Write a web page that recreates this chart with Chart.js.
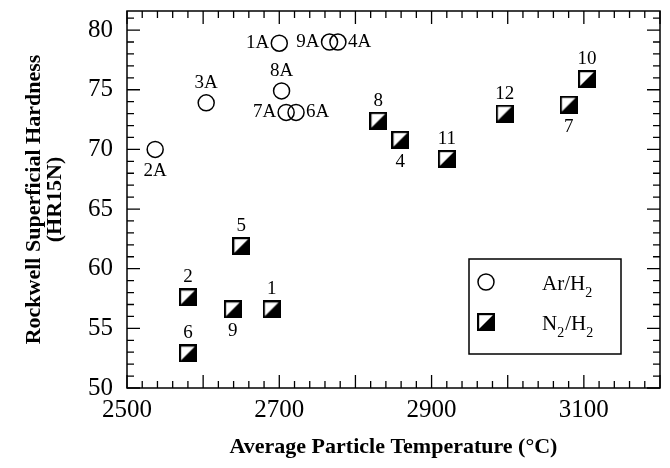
<!DOCTYPE html>
<html>
<head>
<meta charset="utf-8">
<script src="https://cdn.jsdelivr.net/npm/chart.js@4.4.1/dist/chart.umd.min.js"></script>
<style>
  body { margin: 0; background: #fff; }
</style>
</head>
<body>
<canvas id="grafico" width="670" height="468"></canvas>
<script>
// Ar/H2 sprayed coatings
const nomesAr = ['2A', '3A', '1A', '8A', '7A', '6A', '9A', '4A'];
const tempAr = [2537, 2604, 2700, 2703, 2709, 2722, 2766, 2777];
const durezaAr = [70.0, 73.9, 78.9, 74.9, 73.1, 73.1, 79.0, 79.0];

// N2/H2 sprayed coatings
const nomesN2 = ['1', '2', '4', '5', '6', '7', '8', '9', '10', '11', '12'];
const tempN2 = [2690, 2580, 2859, 2650, 2580, 3080, 2830, 2639, 3104, 2920, 2996];
const durezaN2 = [56.6, 57.6, 70.8, 61.9, 52.9, 73.75, 72.4, 56.6, 75.9, 69.2, 73.0];

// where each point label sits
const ladoAr = ['below', 'above', 'left', 'above', 'left', 'right', 'left', 'right'];
const ladoN2 = ['above', 'above', 'below', 'above', 'above', 'below', 'above', 'below', 'above', 'above', 'above'];

const fonte = "'Liberation Serif', 'Times New Roman', serif";

// half filled square marker
const quadrado = document.createElement('canvas');
quadrado.width = 18;
quadrado.height = 18;
(function () {
    const c = quadrado.getContext('2d');
    c.fillStyle = '#fff';
    c.fillRect(0, 0, 18, 18);
    c.fillStyle = '#000';
    c.beginPath();
    c.moveTo(18, 0);
    c.lineTo(18, 18);
    c.lineTo(0, 18);
    c.closePath();
    c.fill();
    c.strokeStyle = '#000';
    c.lineWidth = 2.2;
    c.strokeRect(1.1, 1.1, 15.8, 15.8);
})();

function pontos(xs, ys) {
    return xs.map((x, i) => ({ x: x, y: ys[i] }));
}

// frame with inward ticks on all four sides
const moldura = {
    id: 'moldura',
    beforeDatasetsDraw(chart) {
        const ctx = chart.ctx;
        const a = chart.chartArea;
        const sx = chart.scales.x;
        const sy = chart.scales.y;
        ctx.save();
        ctx.strokeStyle = '#000';
        ctx.lineWidth = 1.5;
        ctx.strokeRect(a.left, a.top, a.right - a.left, a.bottom - a.top);
        ctx.lineWidth = 1.3;
        ctx.beginPath();
        for (let v = sx.min; v <= sx.max; v += 20) {
            const px = sx.getPixelForValue(v);
            const len = (v % 100 === 0) ? 13 : 7;
            ctx.moveTo(px, a.bottom);
            ctx.lineTo(px, a.bottom - len);
            ctx.moveTo(px, a.top);
            ctx.lineTo(px, a.top + len);
        }
        for (let v = 50; v <= sy.max; v += 1) {
            const py = sy.getPixelForValue(v);
            const len = (v % 5 === 0) ? 13 : 7;
            ctx.moveTo(a.left, py);
            ctx.lineTo(a.left + len, py);
            ctx.moveTo(a.right, py);
            ctx.lineTo(a.right - len, py);
        }
        ctx.stroke();
        ctx.restore();
    }
};

// sample names next to each marker
const rotulos = {
    id: 'rotulos',
    afterDatasetsDraw(chart) {
        const ctx = chart.ctx;
        ctx.save();
        ctx.fillStyle = '#000';
        ctx.font = '19px ' + fonte;
        chart.data.datasets.forEach((ds, d) => {
            const meta = chart.getDatasetMeta(d);
            meta.data.forEach((el, i) => {
                const lado = ds.lados[i];
                let x = el.x, y = el.y;
                if (lado === 'above') {
                    ctx.textAlign = 'center'; ctx.textBaseline = 'middle'; y -= 20;
                } else if (lado === 'below') {
                    ctx.textAlign = 'center'; ctx.textBaseline = 'middle'; y += 22;
                } else if (lado === 'left') {
                    ctx.textAlign = 'right'; ctx.textBaseline = 'middle'; x -= 10;
                } else {
                    ctx.textAlign = 'left'; ctx.textBaseline = 'middle'; x += 10;
                }
                ctx.fillText(ds.nomes[i], x, y);
            });
        });
        ctx.restore();
    }
};

// boxed legend with subscripts
const legenda = {
    id: 'legenda',
    afterDraw(chart) {
        const ctx = chart.ctx;
        const a = chart.chartArea;
        const x0 = a.right - 191, y0 = a.bottom - 129;
        const w = 152, h = 95;
        ctx.save();
        ctx.fillStyle = '#fff';
        ctx.fillRect(x0, y0, w, h);
        ctx.strokeStyle = '#000';
        ctx.lineWidth = 1.5;
        ctx.strokeRect(x0, y0, w, h);

        ctx.beginPath();
        ctx.arc(x0 + 17, y0 + 23, 8, 0, Math.PI * 2);
        ctx.stroke();
        ctx.drawImage(quadrado, x0 + 8, y0 + 54);

        ctx.fillStyle = '#000';
        ctx.textBaseline = 'alphabetic';
        ctx.textAlign = 'left';
        const escrever = (partes, x, y) => {
            partes.forEach(p => {
                ctx.font = (p.sub ? '14px ' : '21px ') + fonte;
                ctx.fillText(p.t, x, y + (p.sub ? 7 : 0));
                x += ctx.measureText(p.t).width + (p.sub ? 1 : 0);
            });
        };
        escrever([{ t: 'Ar/H' }, { t: '2', sub: true }], x0 + 73, y0 + 31);
        escrever([{ t: 'N' }, { t: '2', sub: true }, { t: '/H' }, { t: '2', sub: true }], x0 + 73, y0 + 71);
        ctx.restore();
    }
};

const ctx = document.getElementById('grafico').getContext('2d');

const grafico = new Chart(ctx, {
    type: 'scatter',
    data: {
        datasets: [{
            label: 'Ar/H2',
            data: pontos(tempAr, durezaAr),
            nomes: nomesAr,
            lados: ladoAr,
            pointStyle: 'circle',
            pointRadius: 8,
            pointHoverRadius: 8,
            pointBorderWidth: 1.5,
            borderColor: '#000',
            backgroundColor: 'rgba(0,0,0,0)'
        }, {
            label: 'N2/H2',
            data: pontos(tempN2, durezaN2),
            nomes: nomesN2,
            lados: ladoN2,
            pointStyle: quadrado,
            pointRadius: 9,
            borderColor: '#000',
            backgroundColor: '#000'
        }]
    },
    options: {
        responsive: false,
        animation: false,
        devicePixelRatio: 1,
        layout: { padding: { top: 11, right: 10, left: 0, bottom: 0 } },
        plugins: {
            legend: { display: false },
            tooltip: { enabled: false }
        },
        scales: {
            x: {
                type: 'linear',
                min: 2500,
                max: 3200,
                grid: { display: false, drawTicks: false },
                border: { display: false },
                ticks: {
                    stepSize: 100,
                    autoSkip: false,
                    maxRotation: 0,
                    padding: 7,
                    color: '#000',
                    font: { family: fonte, size: 25 },
                    callback: v => ((v - 2500) % 200 === 0 ? String(v) : '')
                },
                title: {
                    display: true,
                    text: 'Average Particle Temperature (°C)',
                    color: '#000',
                    font: { family: fonte, size: 22, weight: 'bold', lineHeight: 1.2 },
                    padding: { top: 0, bottom: 7 }
                },
                afterFit(s) {
                    s.height = 80;
                    s.paddingLeft = 0;
                    s.paddingRight = 0;
                }
            },
            y: {
                min: 50,
                max: 81.6,
                grid: { display: false, drawTicks: false },
                border: { display: false },
                ticks: {
                    stepSize: 5,
                    includeBounds: false,
                    padding: 14,
                    color: '#000',
                    font: { family: fonte, size: 25 }
                },
                title: {
                    display: true,
                    text: ['Rockwell Superficial Hardness', '(HR15N)'],
                    color: '#000',
                    font: { family: fonte, size: 22, weight: 'bold', lineHeight: 0.95 },
                    padding: { top: 24, bottom: 0 }
                },
                afterFit(s) {
                    s.width = 127;
                    s.paddingTop = 0;
                    s.paddingBottom = 0;
                }
            }
        }
    },
    plugins: [moldura, rotulos, legenda]
});
</script>
</body>
</html>
